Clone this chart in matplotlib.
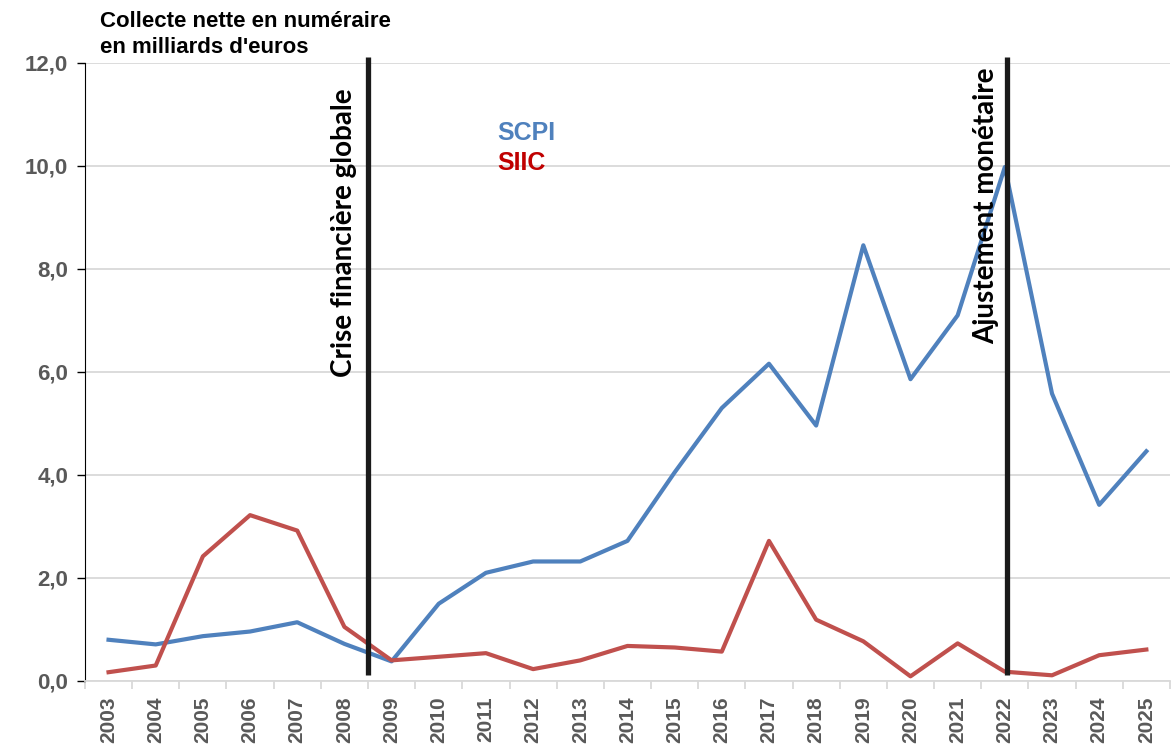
import matplotlib.pyplot as plt
import numpy as np

# Collecte nette annuelle (milliards d'euros)
years = [str(y) for y in range(2003, 2026)]
scpi = [0.80, 0.71, 0.87, 0.96, 1.14, 0.72, 0.38, 1.50, 2.10, 2.32, 2.32, 2.72,
        4.05, 5.30, 6.16, 4.96, 8.46, 5.86, 7.10, 9.98, 5.58, 3.42, 4.46]
siic = [0.17, 0.30, 2.42, 3.22, 2.92, 1.05, 0.40, 0.47, 0.54, 0.23, 0.40, 0.68,
        0.65, 0.57, 2.72, 1.19, 0.77, 0.09, 0.73, 0.18, 0.11, 0.50, 0.61]

# evenements marques par un trait vertical (position en index de categorie)
event_labels = ["Crise financière globale", "Ajustement monétaire"]
event_pos = [5.5, 19.05]
event_text_top = [11.51, 11.92]

blue = '#4F81BD'
red = '#C0504D'
grey_txt = '#595959'

fig = plt.figure(figsize=(11.75, 7.47), dpi=100)
ax = fig.add_axes([0.0723, 0.0884, 0.9234, 0.8273])

x = np.arange(len(years))
ax.plot(x, scpi, color=blue, lw=3, solid_joinstyle='round', zorder=3)
ax.plot(x, siic, color=red, lw=3, solid_joinstyle='round', zorder=3)

ax.set_xlim(-0.5, len(years) - 0.5)
ax.set_ylim(0, 12)

# grille horizontale
ax.set_yticks(np.arange(0, 12.1, 2))
ax.set_yticklabels([f"{v:.1f}".replace('.', ',') for v in np.arange(0, 12.1, 2)])
ax.yaxis.grid(True, color='#D9D9D9', lw=1.3)
ax.set_axisbelow(True)

ax.set_xticks(x)
ax.set_xticklabels(years, rotation=90)
ax.set_xticks(np.arange(-0.5, len(years), 1), minor=True)
ax.tick_params(axis='x', which='major', length=0, pad=11)
ax.tick_params(axis='x', which='minor', length=6, color='#D9D9D9', width=1.3)
ax.tick_params(axis='y', length=6, width=1, color='black', pad=6)

for lab in ax.get_xticklabels():
    lab.set_fontsize(15)
for lab in ax.get_yticklabels():
    lab.set_fontsize(16)
for lab in ax.get_xticklabels() + ax.get_yticklabels():
    lab.set_fontfamily('Liberation Sans')
    lab.set_fontweight('bold')
    lab.set_color(grey_txt)

for s in ['top', 'right']:
    ax.spines[s].set_visible(False)
ax.spines['left'].set_color('black')
ax.spines['bottom'].set_color('#D9D9D9')
ax.spines['bottom'].set_linewidth(1.3)

for label, pos, top in zip(event_labels, event_pos, event_text_top):
    ax.vlines(pos, 0.12, 12.12, color='#1A1A1A', lw=3.8, clip_on=False, zorder=4)
    ax.text(pos - 0.5 if pos < 10 else pos - 0.45, top, label,
            rotation=90, ha='center', va='top', fontsize=20, family='Lato',
            fontweight='bold', color='black', zorder=5)

# legende en texte
ax.text(8.25, 10.64, "SCPI", color=blue, fontsize=18, fontweight='bold',
        family='Liberation Sans', va='center')
ax.text(8.25, 10.06, "SIIC", color='#C00000', fontsize=18, fontweight='bold',
        family='Liberation Sans', va='center')

fig.text(0.085, 0.985, "Collecte nette en numéraire\nen milliards d'euros",
         fontsize=16, fontweight='bold', family='Liberation Sans',
         va='top', ha='left', linespacing=1.3)

fig.savefig('out.png', dpi=100)
